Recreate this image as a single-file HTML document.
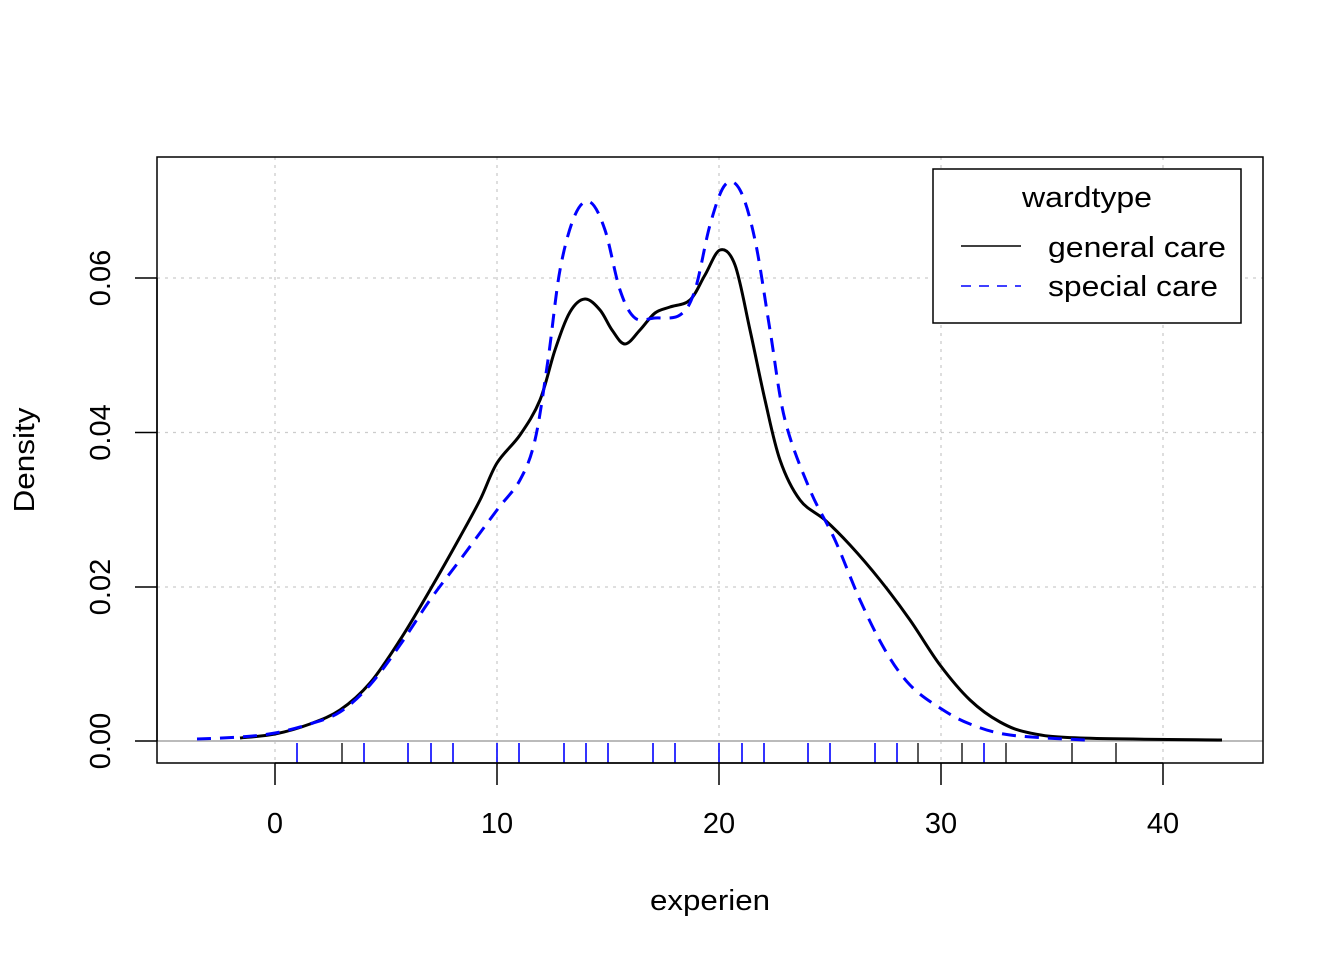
<!DOCTYPE html>
<html><head><meta charset="utf-8"><style>html,body{margin:0;padding:0;background:#fff}svg{display:block}text{font-family:"Liberation Sans",Arial,sans-serif}</style></head>
<body>
<svg width="1344" height="960" viewBox="0 0 1344 960" xmlns="http://www.w3.org/2000/svg">
<rect width="1344" height="960" fill="#fff"/>
<g stroke="#cccccc" stroke-width="1.3" stroke-dasharray="3,5">
<line x1="275" y1="157" x2="275" y2="763"/><line x1="497" y1="157" x2="497" y2="763"/><line x1="719" y1="157" x2="719" y2="763"/><line x1="941" y1="157" x2="941" y2="763"/><line x1="1163" y1="157" x2="1163" y2="763"/>
<line x1="157" y1="587" x2="1263" y2="587"/><line x1="157" y1="432.5" x2="1263" y2="432.5"/><line x1="157" y1="278" x2="1263" y2="278"/>
</g>
<line x1="157" y1="741" x2="1263" y2="741" stroke="#bbbbbb" stroke-width="2"/>
<g stroke="#000" stroke-width="1.3">
<line x1="342" y1="743" x2="342" y2="763"/><line x1="962" y1="743" x2="962" y2="763"/><line x1="1006" y1="743" x2="1006" y2="763"/><line x1="1072" y1="743" x2="1072" y2="763"/><line x1="1116" y1="743" x2="1116" y2="763"/><line x1="918" y1="743" x2="918" y2="763"/>
</g>
<g stroke="#0000ff" stroke-width="1.6">
<line x1="297" y1="743" x2="297" y2="763"/><line x1="364" y1="743" x2="364" y2="763"/><line x1="408" y1="743" x2="408" y2="763"/><line x1="431" y1="743" x2="431" y2="763"/><line x1="453" y1="743" x2="453" y2="763"/><line x1="497" y1="743" x2="497" y2="763"/><line x1="519" y1="743" x2="519" y2="763"/><line x1="564" y1="743" x2="564" y2="763"/><line x1="586" y1="743" x2="586" y2="763"/><line x1="608" y1="743" x2="608" y2="763"/><line x1="653" y1="743" x2="653" y2="763"/><line x1="675" y1="743" x2="675" y2="763"/><line x1="719" y1="743" x2="719" y2="763"/><line x1="742" y1="743" x2="742" y2="763"/><line x1="764" y1="743" x2="764" y2="763"/><line x1="808" y1="743" x2="808" y2="763"/><line x1="830" y1="743" x2="830" y2="763"/><line x1="875" y1="743" x2="875" y2="763"/><line x1="897" y1="743" x2="897" y2="763"/><line x1="984" y1="743" x2="984" y2="763"/>
</g>
<path id="pk" fill="none" stroke="#000" stroke-width="3" stroke-linejoin="round" data-p="240,738 275,734 310,724 340,710 370,683 400,640 430,590 460,537 480,500 497,463 520,435 540,400 555,350 570,312 585,299 600,310 612,330 625,344 640,330 655,313 670,307 690,300 705,275 720,250 735,265 750,330 765,400 780,460 800,500 825,520 850,545 880,580 910,620 940,665 970,700 1000,722 1030,733 1080,738 1222,740" d="M240,738 L275,734 310,724 340,710 370,683 400,640 430,590 460,537 480,500 497,463 520,435 540,400 555,350 570,312 585,299 600,310 612,330 625,344 640,330 655,313 670,307 690,300 705,275 720,250 735,265 750,330 765,400 780,460 800,500 825,520 850,545 880,580 910,620 940,665 970,700 1000,722 1030,733 1080,738 1222,740"/>
<path id="pb" fill="none" stroke="#0000ff" stroke-width="3" stroke-dasharray="14,9" stroke-linejoin="round" data-p="197,739 240,737 275,733 310,724 340,712 370,685 400,645 430,600 460,560 497,510 520,480 535,440 548,360 560,270 575,215 590,202 605,230 620,290 635,318 655,318 680,315 695,290 710,225 725,185 740,190 755,240 770,330 785,420 810,490 835,540 860,600 885,650 910,685 940,708 970,724 1010,735 1085,740" d="M197,739 L240,737 275,733 310,724 340,712 370,685 400,645 430,600 460,560 497,510 520,480 535,440 548,360 560,270 575,215 590,202 605,230 620,290 635,318 655,318 680,315 695,290 710,225 725,185 740,190 755,240 770,330 785,420 810,490 835,540 860,600 885,650 910,685 940,708 970,724 1010,735 1085,740"/>
<rect x="157" y="157" width="1106" height="606" fill="none" stroke="#000" stroke-width="1.5"/>
<g stroke="#000" stroke-width="1.5">
<line x1="275" y1="763" x2="1163" y2="763"/>
<line x1="275" y1="763" x2="275" y2="785"/><line x1="497" y1="763" x2="497" y2="785"/><line x1="719" y1="763" x2="719" y2="785"/><line x1="941" y1="763" x2="941" y2="785"/><line x1="1163" y1="763" x2="1163" y2="785"/>
<line x1="157" y1="741" x2="157" y2="278"/>
<line x1="157" y1="741" x2="135" y2="741"/><line x1="157" y1="587" x2="135" y2="587"/><line x1="157" y1="432.5" x2="135" y2="432.5"/><line x1="157" y1="278" x2="135" y2="278"/>
</g>
<g font-size="29" text-anchor="middle" fill="#000">
<text x="275" y="833">0</text><text x="497" y="833">10</text><text x="719" y="833">20</text><text x="941" y="833">30</text><text x="1163" y="833">40</text>
<text x="710" y="910" textLength="120" lengthAdjust="spacingAndGlyphs">experien</text>
<text transform="translate(110,741) rotate(-90)">0.00</text>
<text transform="translate(110,587) rotate(-90)">0.02</text>
<text transform="translate(110,432.5) rotate(-90)">0.04</text>
<text transform="translate(110,278) rotate(-90)">0.06</text>
<text transform="translate(34,460) rotate(-90)" textLength="105" lengthAdjust="spacingAndGlyphs">Density</text>
</g>
<rect x="933" y="169" width="308" height="154" fill="#fff" stroke="#000" stroke-width="1.5"/>
<text x="1022" y="207" font-size="29" textLength="130" lengthAdjust="spacingAndGlyphs">wardtype</text>
<line x1="961" y1="246" x2="1021" y2="246" stroke="#000" stroke-width="1.5"/>
<line x1="961" y1="286" x2="1021" y2="286" stroke="#0000ff" stroke-width="1.5" stroke-dasharray="10,8"/>
<text x="1048" y="257" font-size="29" textLength="178" lengthAdjust="spacingAndGlyphs">general care</text>
<text x="1048" y="296" font-size="29" textLength="170" lengthAdjust="spacingAndGlyphs">special care</text>
</svg>
<script>
['pk','pb'].forEach(function(id){var el=document.getElementById(id);var p=el.getAttribute('data-p').split(' ').map(function(s){return s.split(',').map(Number)});
var d='M'+p[0][0]+','+p[0][1];
for(var i=0;i<p.length-1;i++){var p0=p[i>0?i-1:0],p1=p[i],p2=p[i+1],p3=p[i+2<p.length?i+2:i+1];
var c1x=p1[0]+(p2[0]-p0[0])/6,c1y=p1[1]+(p2[1]-p0[1])/6,c2x=p2[0]-(p3[0]-p1[0])/6,c2y=p2[1]-(p3[1]-p1[1])/6;
d+=' C'+c1x.toFixed(1)+','+c1y.toFixed(1)+' '+c2x.toFixed(1)+','+c2y.toFixed(1)+' '+p2[0]+','+p2[1];}
el.setAttribute('d',d);});
</script>
</body></html>
